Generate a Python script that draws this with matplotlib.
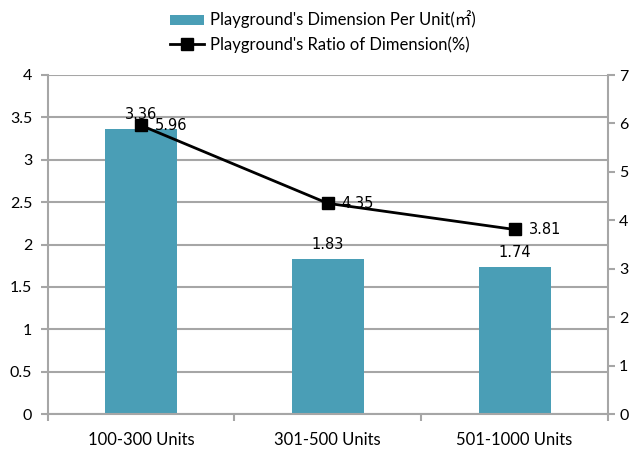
import matplotlib
matplotlib.use("Agg")
import matplotlib.pyplot as plt
from matplotlib.lines import Line2D
from matplotlib.patches import Patch

categories = ["100-300 Units", "301-500 Units", "501-1000 Units"]
dimension_per_unit = [3.36, 1.83, 1.74]
ratio_of_dimension = [5.96, 4.35, 3.81]
left_ticks = [0, 0.5, 1, 1.5, 2, 2.5, 3, 3.5, 4]
left_tick_labels = ["0", "0.5", "1", "1.5", "2", "2.5", "3", "3.5", "4"]
right_ticks = [0, 1, 2, 3, 4, 5, 6, 7]

bar_label = "Playground's Dimension Per Unit(㎡)"
line_label = "Playground's Ratio of Dimension(%)"

BAR_COLOR = "#4A9EB6"
GRID_COLOR = "#A6A6A6"
UI_FONT = ["Lato", "DejaVu Sans", "Noto Sans CJK SC"]

fig = plt.figure(figsize=(6.33, 4.51), dpi=100)
ax = fig.add_axes([47.5 / 633, 1 - 414 / 451, (608 - 47.5) / 633, (414 - 75) / 451])
ax2 = ax.twinx()

x = list(range(len(categories)))

# bars on the left axis
ax.bar(x, dimension_per_unit, width=0.385, color=BAR_COLOR, zorder=2)
ax.set_xlim(-0.5, len(categories) - 0.5)
ax.set_ylim(0, 4)
ax.set_yticks(left_ticks)
ax.set_yticklabels(left_tick_labels, fontsize=11.5, family=UI_FONT)
ax.yaxis.grid(True, color=GRID_COLOR, linewidth=1.5, zorder=0)
ax.set_axisbelow(True)

# category ticks sit between categories, labels under each bar
ax.set_xticks([i - 0.5 for i in range(len(categories) + 1)])
ax.set_xticklabels([])
ax.set_xticks(x, minor=True)
ax.set_xticklabels(categories, minor=True, fontsize=12, family=UI_FONT)
ax.tick_params(axis="x", which="minor", length=0, pad=13)
ax.tick_params(axis="x", which="major", length=5, color=GRID_COLOR, width=1.5, direction="out")
ax.tick_params(axis="y", length=5, color=GRID_COLOR, width=1.5, pad=6)

for s in ["top", "right"]:
    ax.spines[s].set_visible(False)
for s in ["left", "bottom"]:
    ax.spines[s].set_color(GRID_COLOR)
    ax.spines[s].set_linewidth(1.5)

for xi, v in zip(x, dimension_per_unit):
    ax.annotate(f"{v:.2f}", (xi, v), xytext=(0, 5), textcoords="offset points",
                ha="center", va="bottom", fontsize=10.5, family="DejaVu Sans", zorder=5)

# line on the right axis
ax2.plot(x, ratio_of_dimension, color="black", linewidth=2, marker="s",
         markersize=8, zorder=4)
ax2.set_ylim(0, 7)
ax2.set_yticks(right_ticks)
ax2.set_yticklabels([str(t) for t in right_ticks], fontsize=11.5, family=UI_FONT)
ax2.tick_params(axis="y", length=5, color=GRID_COLOR, width=1.5, pad=3)
for s in ["top", "left", "bottom"]:
    ax2.spines[s].set_visible(False)
ax2.spines["right"].set_color(GRID_COLOR)
ax2.spines["right"].set_linewidth(1.5)

for xi, v in zip(x, ratio_of_dimension):
    ax2.annotate(f"{v:.2f}", (xi, v), xytext=(10, 0), textcoords="offset points",
                 ha="left", va="center", fontsize=10.5, family="DejaVu Sans", zorder=5)

handles = [
    Patch(facecolor=BAR_COLOR, edgecolor="none"),
    Line2D([0], [0], color="black", linewidth=2, marker="s", markersize=8),
]
fig.legend(handles, [bar_label, line_label], loc="upper center",
           bbox_to_anchor=(0.51, 1.01), frameon=False, handlelength=2.0,
           handleheight=0.55, handletextpad=0.35, labelspacing=0.45,
           prop={"family": UI_FONT, "size": 12})

fig.savefig("out.png", dpi=100)
